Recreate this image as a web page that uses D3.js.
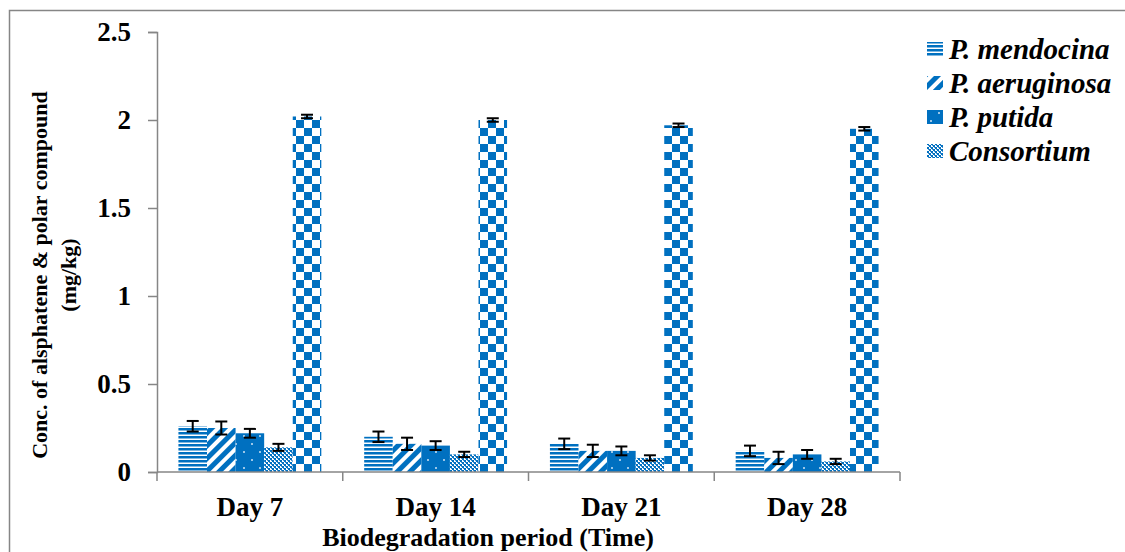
<!DOCTYPE html>
<html>
<head>
<meta charset="utf-8">
<script src="https://cdn.jsdelivr.net/npm/d3@7"></script>
<style>
  body { margin: 0; background: #fff; }
  svg { display: block; }
  svg text { font-family: "Liberation Serif", "Times New Roman", "DejaVu Serif", serif; font-weight: bold; }
</style>
</head>
<body>
<div id="chart"></div>
<script>
const days = ["Day 7", "Day 14", "Day 21", "Day 28"];
const seriesNames = ["P. mendocina", "P. aeruginosa", "P. putida", "Consortium", "Control"];
const legendNames = ["P. mendocina", "P. aeruginosa", "P. putida", "Consortium"];

const mendocina = [0.26, 0.2, 0.16, 0.12];
const aeruginosa = [0.25, 0.16, 0.12, 0.08];
const putida = [0.22, 0.15, 0.12, 0.1];
const consortium = [0.14, 0.1, 0.08, 0.06];
const control = [2.02, 2.0, 1.97, 1.95];

const mendocinaErr = [0.03, 0.03, 0.03, 0.03];
const aeruginosaErr = [0.037, 0.035, 0.035, 0.035];
const putidaErr = [0.025, 0.025, 0.025, 0.025];
const consortiumErr = [0.02, 0.015, 0.015, 0.015];
const controlErr = [0.01, 0.01, 0.01, 0.01];

const yTicks = [0, 0.5, 1, 1.5, 2, 2.5];

const values = [mendocina, aeruginosa, putida, consortium, control];
const errors = [mendocinaErr, aeruginosaErr, putidaErr, consortiumErr, controlErr];
const patternIds = ["p-hstripe", "p-diag", "p-dots", "p-fine", "p-check"];

const blue = "#0070c0";
const gray = "#868686";
const width = 1125;
const height = 552;
const margin = { top: 32, right: 225, bottom: 80, left: 157 };

const rows = days.flatMap((day, i) =>
  seriesNames.map((name, j) => ({
    day,
    name,
    value: values[j][i],
    err: errors[j][i],
    pattern: patternIds[j],
  }))
);

const svg = d3
  .select("#chart")
  .append("svg")
  .attr("width", width)
  .attr("height", height)
  .attr("viewBox", [0, 0, width, height]);

// fill patterns (Excel style)
const defs = svg.append("defs");
const hs = defs.append("pattern").attr("id", "p-hstripe").attr("patternUnits", "userSpaceOnUse").attr("width", 8).attr("height", 4);
hs.append("rect").attr("width", 8).attr("height", 4).attr("fill", "#fff");
hs.append("rect").attr("width", 8).attr("height", 2.5).attr("fill", blue);

const dg = defs.append("pattern").attr("id", "p-diag").attr("patternUnits", "userSpaceOnUse").attr("width", 9).attr("height", 9).attr("patternTransform", "rotate(45)");
dg.append("rect").attr("width", 9).attr("height", 9).attr("fill", "#fff");
dg.append("rect").attr("width", 5).attr("height", 9).attr("fill", blue);

const dt = defs.append("pattern").attr("id", "p-dots").attr("patternUnits", "userSpaceOnUse").attr("width", 16).attr("height", 16);
dt.append("rect").attr("width", 16).attr("height", 16).attr("fill", blue);
dt.append("circle").attr("cx", 4).attr("cy", 4).attr("r", 1).attr("fill", "#cfe3f5");
dt.append("circle").attr("cx", 12).attr("cy", 12).attr("r", 1).attr("fill", "#cfe3f5");

const fn = defs.append("pattern").attr("id", "p-fine").attr("patternUnits", "userSpaceOnUse").attr("width", 4).attr("height", 4);
fn.append("rect").attr("width", 4).attr("height", 4).attr("fill", "#fff");
fn.append("rect").attr("width", 2).attr("height", 2).attr("fill", blue);
fn.append("rect").attr("x", 2).attr("y", 2).attr("width", 2).attr("height", 2).attr("fill", blue);
fn.append("rect").attr("x", 1).attr("y", 2).attr("width", 1).attr("height", 1).attr("fill", "#4a90d0");
fn.append("rect").attr("x", 3).attr("y", 0).attr("width", 1).attr("height", 1).attr("fill", "#4a90d0");

const ck = defs.append("pattern").attr("id", "p-check").attr("patternUnits", "userSpaceOnUse").attr("width", 16).attr("height", 16);
ck.append("rect").attr("width", 16).attr("height", 16).attr("fill", "#fff");
ck.append("rect").attr("width", 8).attr("height", 8).attr("fill", blue);
ck.append("rect").attr("x", 8).attr("y", 8).attr("width", 8).attr("height", 8).attr("fill", blue);

// outer frame (right and bottom edges fall outside the picture)
svg.append("path")
  .attr("d", `M9.5,${height + 10}V10.5H${width + 10}`)
  .attr("fill", "none")
  .attr("stroke", gray)
  .attr("stroke-width", 1.5);

const x0 = d3.scaleBand().domain(days).range([margin.left, width - margin.right]).padding(0);
const x1 = d3.scaleBand().domain(seriesNames).range([0, x0.bandwidth()]).paddingInner(0).paddingOuter(0.75);
const y = d3.scaleLinear().domain([0, 2.5]).range([height - margin.bottom, margin.top]);

// y axis
const gy = svg.append("g")
  .attr("transform", `translate(${margin.left},0)`)
  .call(d3.axisLeft(y).tickValues(yTicks).tickFormat((d) => String(d)).tickSize(9).tickPadding(17))
  .attr("font-size", null)
  .attr("font-family", null);
gy.select(".domain").attr("stroke", gray).attr("stroke-width", 1.5);
gy.selectAll(".tick line").attr("stroke", gray).attr("stroke-width", 1.5);
gy.selectAll(".tick text").attr("font-size", 27).attr("fill", "#000");

// bars
svg.append("g")
  .selectAll("rect")
  .data(rows)
  .join("rect")
  .attr("x", (d) => x0(d.day) + x1(d.name))
  .attr("y", (d) => y(d.value))
  .attr("width", x1.bandwidth())
  .attr("height", (d) => y(0) - y(d.value))
  .attr("fill", (d) => `url(#${d.pattern})`);

// error bars
const eb = svg.append("g")
  .attr("stroke", "#000")
  .attr("stroke-width", 2)
  .selectAll("g")
  .data(rows)
  .join("g")
  .attr("transform", (d) => `translate(${x0(d.day) + x1(d.name) + x1.bandwidth() / 2},0)`);
eb.append("line").attr("y1", (d) => y(d.value - d.err)).attr("y2", (d) => y(d.value + d.err));
eb.append("line").attr("x1", -6).attr("x2", 6).attr("y1", (d) => y(d.value + d.err)).attr("y2", (d) => y(d.value + d.err));
eb.append("line").attr("x1", -6).attr("x2", 6).attr("y1", (d) => y(d.value - d.err)).attr("y2", (d) => y(d.value - d.err));

// x axis with ticks on category boundaries
const gx = svg.append("g").attr("transform", `translate(0,${y(0)})`);
gx.append("line")
  .attr("x1", margin.left).attr("x2", width - margin.right)
  .attr("stroke", gray).attr("stroke-width", 1.5);
gx.selectAll(".bound")
  .data(days.concat(["end"]))
  .join("line")
  .attr("class", "bound")
  .attr("x1", (d, i) => (i < days.length ? x0(d) : width - margin.right))
  .attr("x2", (d, i) => (i < days.length ? x0(d) : width - margin.right))
  .attr("y2", 9)
  .attr("stroke", gray).attr("stroke-width", 1.5);
gx.selectAll(".cat")
  .data(days)
  .join("text")
  .attr("class", "cat")
  .attr("x", (d) => x0(d) + x0.bandwidth() / 2)
  .attr("y", 44)
  .attr("text-anchor", "middle")
  .attr("font-size", 27)
  .text((d) => d);

svg.append("text")
  .attr("x", 488)
  .attr("y", 546)
  .attr("text-anchor", "middle")
  .attr("font-size", 26)
  .text("Biodegradation period (Time)");

// y title, two lines
const yTitle = svg.append("text")
  .attr("transform", "translate(0,275) rotate(-90)")
  .attr("text-anchor", "middle")
  .attr("font-size", 22);
yTitle.append("tspan").attr("x", 0).attr("y", 47).text("Conc. of alsphatene & polar compound");
yTitle.append("tspan").attr("x", 0).attr("y", 76).text("(mg/kg)");

// legend
const legend = svg.append("g")
  .selectAll("g")
  .data(legendNames)
  .join("g")
  .attr("transform", (d, i) => `translate(927,${49 + i * 34})`);
legend.append("rect")
  .attr("y", -7)
  .attr("width", 16)
  .attr("height", 14)
  .attr("fill", (d, i) => `url(#${patternIds[i]})`);
legend.append("text")
  .attr("x", 22)
  .attr("y", 10)
  .attr("font-size", 29)
  .attr("font-style", "italic")
  .text((d) => d);
</script>
</body>
</html>
